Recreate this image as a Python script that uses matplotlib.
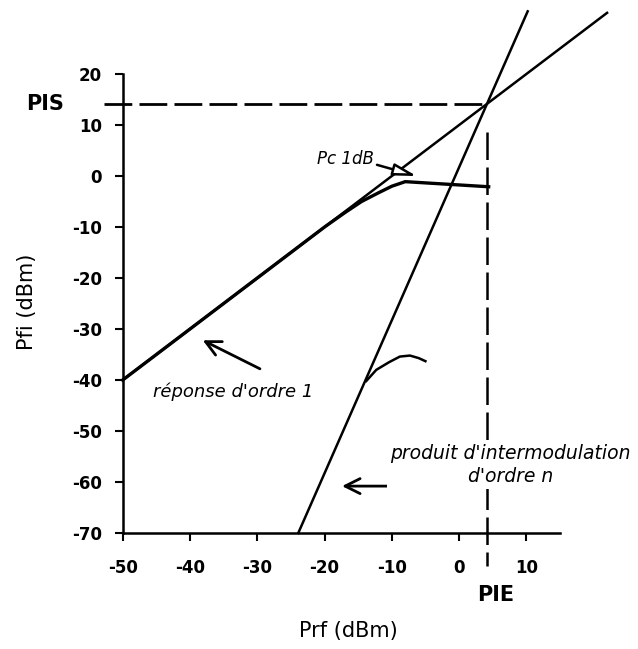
import matplotlib
matplotlib.use("Agg")
import matplotlib.pyplot as plt

plt.rcParams['axes.unicode_minus'] = False
plt.rcParams['font.family'] = ['DejaVu Sans']

# first-order response (ideal straight line) and compressed real response
prf_lin = [-50, 22]
pfi_lin = [-40, 32]
prf_comp = [-50, -20, -17, -14.5, -12, -10, -8, 4.4]
pfi_comp = [-40, -10, -7.2, -5.0, -3.3, -2.0, -1.1, -2.1]

# intermodulation product of order n
prf_im = [-23.9, 10.2]
pfi_im = [-70, 32.3]
# small deviation of the measured intermod product
prf_hump = [-13.8, -12.3, -10.4, -8.8, -7.3, -6.0, -5.0]
pfi_hump = [-40.2, -38.0, -36.5, -35.4, -35.2, -35.7, -36.3]

# intercept point
PIE = 4.2
PIS = 14.2

xticks = [-50, -40, -30, -20, -10, 0, 10]
yticks = [20, 10, 0, -10, -20, -30, -40, -50, -60, -70]

fig = plt.figure(figsize=(6.38, 6.49), dpi=100)
ax = fig.add_axes([0.1923, 0.1787, 0.6854, 0.7072])
ax.set_xlim(-50, 15)
ax.set_ylim(-70, 20)

for s in ['top', 'right']:
    ax.spines[s].set_visible(False)
for s in ['left', 'bottom']:
    ax.spines[s].set_linewidth(1.8)

ax.set_xticks(xticks)
ax.set_yticks(yticks)
ax.tick_params(direction='out', length=6, width=1.5)
ax.tick_params(axis='x', pad=13)
ax.tick_params(axis='y', pad=9)
for lab in ax.get_xticklabels() + ax.get_yticklabels():
    lab.set_fontsize(12)
    lab.set_fontweight('bold')

ax.plot(prf_lin, pfi_lin, color='black', lw=1.8, clip_on=False)
ax.plot(prf_comp, pfi_comp, color='black', lw=2.4, clip_on=False,
        solid_joinstyle='round')
ax.plot(prf_im, pfi_im, color='black', lw=1.8, clip_on=False)
ax.plot(prf_hump, pfi_hump, color='black', lw=1.8, clip_on=False)

# dashed construction lines for PIS / PIE
ax.plot([-52.8, PIE], [PIS, PIS], color='black', lw=2,
        linestyle=(0, (10, 2.6)), clip_on=False)
ax.plot([PIE, PIE], [8.6, -76.5], color='black', lw=1.8,
        linestyle=(0, (11, 3)), clip_on=False)

ax.text(-58.7, PIS, 'PIS', ha='right', va='center', fontsize=15,
        fontweight='bold')
ax.text(5.5, -82.2, 'PIE', ha='center', va='center', fontsize=15,
        fontweight='bold')

ax.set_xlabel('Prf (dBm)', fontsize=15)
ax.set_ylabel('Pfi (dBm)', fontsize=15)
ax.xaxis.set_label_coords(0.515, -0.2135)
ax.xaxis.label.set_verticalalignment('center')
ax.yaxis.set_label_coords(-0.2195, 0.503)
ax.yaxis.label.set_verticalalignment('center')

# annotations
ax.annotate('', xy=(-38.1, -32.2), xytext=(-29.6, -37.8),
            arrowprops=dict(arrowstyle='->,head_length=0.6,head_width=0.3',
                            lw=2, color='black', mutation_scale=18,
                            shrinkA=0, shrinkB=0))
ax.text(-45.5, -42.2, "réponse d'ordre 1", ha='left', va='center',
        fontsize=13, style='italic')

ax.annotate('', xy=(-17.4, -60.8), xytext=(-5.2, -60.8),
            arrowprops=dict(arrowstyle='->,head_length=0.6,head_width=0.3',
                            lw=2, color='black', mutation_scale=18,
                            shrinkA=0, shrinkB=0))
ax.text(7.6, -56.7, "produit d'intermodulation\nd'ordre n", ha='center',
        va='center', fontsize=13.5, style='italic', linespacing=1.25,
        bbox=dict(facecolor='white', edgecolor='none', pad=2), zorder=5,
        clip_on=False)

ax.annotate('', xy=(-6.3, 0), xytext=(-12.2, 2.2),
            arrowprops=dict(arrowstyle='-|>,head_length=0.7,head_width=0.18',
                            lw=1.8, color='black', fc='white',
                            mutation_scale=20, shrinkA=0, shrinkB=0))
ax.text(-12.6, 3.3, 'Pc 1dB', ha='right', va='center', fontsize=12,
        style='italic')

fig.savefig('out.png', dpi=100)
